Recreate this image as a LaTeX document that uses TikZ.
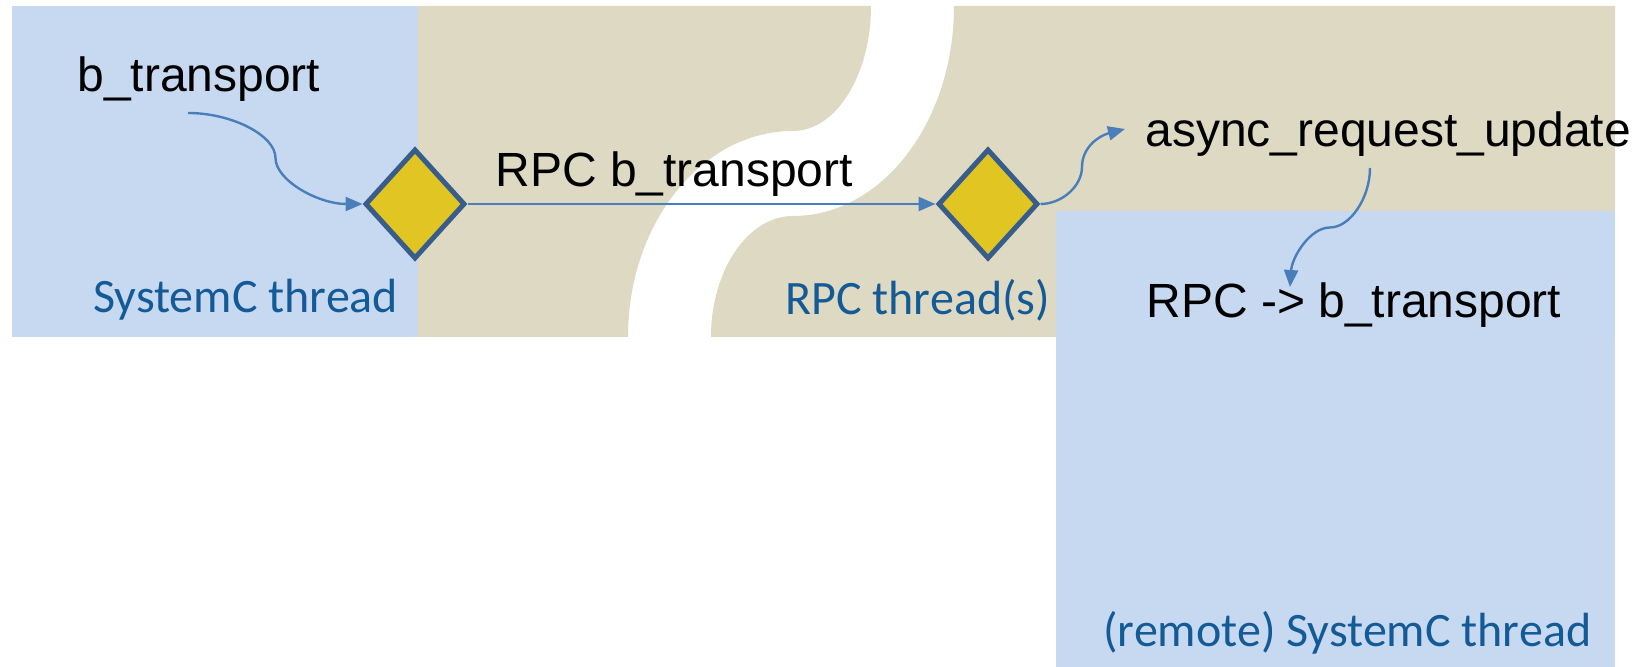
\documentclass[tikz,border=0pt]{standalone}
\usepackage{fontspec}
\setmainfont{Liberation Sans}
\newfontfamily\captionfont{Carlito}
\usetikzlibrary{shapes.geometric,arrows.meta}

\definecolor{paneblue}{RGB}{198,217,241}
\definecolor{panetan}{RGB}{221,217,195}
\definecolor{gatefill}{RGB}{225,198,35}
\definecolor{gateedge}{RGB}{56,93,138}
\definecolor{linkblue}{RGB}{74,126,187}
\definecolor{captionblue}{RGB}{20,90,150}

\tikzset{
  gate/.style={diamond, draw=gateedge, fill=gatefill, line width=2.5pt,
    line join=miter, inner sep=0pt, minimum width=50pt, minimum height=55pt},
  call/.style={font=\fontsize{24}{28}\selectfont, text=black,
    inner sep=0pt, anchor=base west},
  caption/.style={font=\captionfont\fontsize{24}{28}\selectfont,
    text=captionblue, inner sep=0pt, anchor=base west},
  link/.style={draw=linkblue, line width=1.2pt,
    -{Triangle[length=8.5pt,width=7pt]}},
}

\begin{document}
\begin{tikzpicture}[x=0.5pt, y=-0.5pt]
  \useasboundingbox (0,0) rectangle (1640,667);

  % local side: SystemC thread pane
  \fill[paneblue] (12,6) rectangle (418,337);

  % RPC channel, split by a torn gap
  \fill[panetan] (418,6) -- (871,6)
    .. controls (871,75) and (836,131) .. (793,131)
    .. controls (702,131) and (628,223) .. (628,337)
    -- (418,337) -- cycle;
  \fill[panetan] (954,6)
    .. controls (954,122) and (882,216) .. (793,216)
    .. controls (748,216) and (711,270) .. (711,337)
    -- (1615,337) -- (1615,6) -- cycle;

  % remote side: SystemC thread pane
  \fill[paneblue] (1056,211) rectangle (1615,667);

  % labels
  \node[call] (bt) at (77,92) {b\_transport};
  \node[call] (rpcbt) at (495,187) {RPC b\_transport};
  \node[call] (aru) at (1145,147) {async\_request\_update};
  \node[call] (rpcrb) at (1146,318) {RPC -> b\_transport};

  \node[caption] (sct) at (93,313) {SystemC thread};
  \node[caption] (rpct) at (785,315) {RPC thread(s)};
  \node[caption] (rsct) at (1103,647) {(remote) SystemC thread};

  % transport endpoints
  \node[gate] (d1) at (415,204) {};
  \node[gate] (d2) at (988,204) {};

  % connector ends
  \coordinate (bt-tail) at (188,113);
  \coordinate (aru-head) at (1125,129);
  \coordinate (aru-tail) at (1370,168);
  \coordinate (rpcrb-head) at (1290,287);

  % connectors
  \draw[link] (bt-tail) .. controls +(44,0) and +(0,-22.5) .. (275.5,158)
    .. controls +(0,22.5) and +(-44,0) .. (d1.west);
  \draw[link] (d1.east) -- (d2.west);
  \draw[link] (d2.east) .. controls +(21.5,0) and +(0,19) .. (1082,167)
    .. controls +(0,-19) and +(-27,7) .. (aru-head);
  \draw[link] (aru-tail) .. controls +(0,30) and +(20,0) .. (1330,227.5)
    .. controls +(-20,0) and +(2,-30) .. (rpcrb-head);
\end{tikzpicture}
\end{document}
